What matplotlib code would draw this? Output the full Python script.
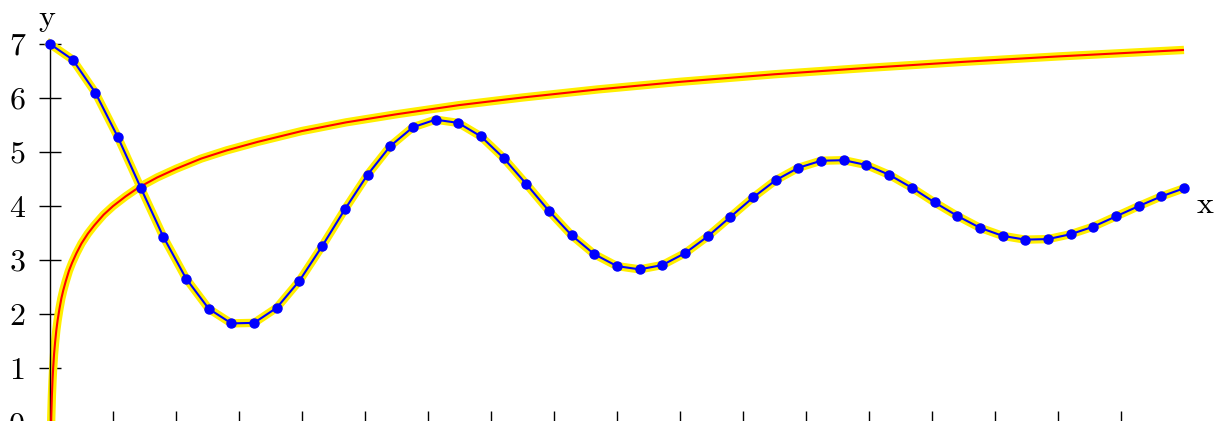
import matplotlib

matplotlib.use("Agg")

import matplotlib.pyplot as plt

# sampled oscillating series (blue dots)
osc_x = [0.36 * i for i in range(51)]
osc_y = [
    7.00, 6.71, 6.10, 5.27, 4.34, 3.43, 2.66, 2.10, 1.83, 1.84,
    2.12, 2.62, 3.26, 3.94, 4.58, 5.11, 5.46, 5.60, 5.54, 5.29,
    4.89, 4.41, 3.91, 3.46, 3.11, 2.89, 2.83, 2.91, 3.13, 3.44,
    3.80, 4.16, 4.48, 4.71, 4.84, 4.85, 4.76, 4.58, 4.34, 4.07,
    3.82, 3.60, 3.45, 3.38, 3.39, 3.48, 3.62, 3.81, 4.00, 4.18,
    4.33,
]

# rising curve (red)
rise_x = [0.01, 0.015, 0.02, 0.03, 0.04, 0.05, 0.065, 0.08, 0.1, 0.12,
          0.15, 0.18, 0.21, 0.25, 0.3, 0.35, 0.42, 0.5, 0.6, 0.7,
          0.85, 1.0, 1.2, 1.4, 1.7, 2.0, 2.4, 2.8, 3.3, 4.0,
          4.7, 5.5, 6.5, 7.5, 8.7, 10.0, 11.5, 13.0, 14.5, 16.0, 18.0]
rise_y = [-0.61, -0.20, 0.09, 0.49, 0.78, 1.00, 1.27, 1.47, 1.70, 1.88,
          2.10, 2.29, 2.44, 2.61, 2.80, 2.95, 3.13, 3.31, 3.49, 3.64,
          3.84, 4.00, 4.18, 4.34, 4.53, 4.69, 4.88, 5.03, 5.19, 5.39,
          5.55, 5.70, 5.87, 6.01, 6.16, 6.30, 6.44, 6.56, 6.67, 6.77, 6.89]

y_ticks = [0, 1, 2, 3, 4, 5, 6, 7]
x_ticks = list(range(1, 18))

plt.rcParams["font.family"] = ["cmr10", "DejaVu Serif"]
plt.rcParams["axes.formatter.use_mathtext"] = True

W, H = 1218, 421
fig = plt.figure(figsize=(W / 100, H / 100), dpi=100)
fig.patch.set_facecolor("white")

left, right = 50, 1184
top, bottom = 44, 422.3
ax = fig.add_axes([left / W, (H - bottom) / H, (right - left) / W, (bottom - top) / H])
ax.set_xlim(0, 18)
ax.set_ylim(0, 7)

halo = "#ffee00"
ax.plot(rise_x, rise_y, color=halo, lw=6.0, solid_capstyle="butt", clip_on=False, zorder=2)
ax.plot(osc_x, osc_y, color=halo, lw=6.0, solid_joinstyle="round", clip_on=False, zorder=2)
ax.plot(rise_x, rise_y, color="red", lw=1.5, solid_capstyle="butt", clip_on=False, zorder=3)
ax.plot(osc_x, osc_y, color="blue", lw=1.5, marker="o", ms=6.5, clip_on=False, zorder=4)

for side in ("top", "right"):
    ax.spines[side].set_visible(False)
ax.spines["left"].set_linewidth(1.0)
ax.spines["bottom"].set_linewidth(1.0)

ax.set_yticks(y_ticks)
ax.set_yticklabels([str(v) for v in y_ticks])
ax.set_xticks(x_ticks)
ax.set_xticklabels([])
ax.tick_params(axis="both", direction="inout", length=15.8, width=1.0, pad=10, labelsize=23)

ax.text(1.0185, 0.574, "x", transform=ax.transAxes, fontsize=23, ha="center", va="center")
ax.text(-0.0026, 1.069, "y", transform=ax.transAxes, fontsize=23, ha="center", va="center")

fig.savefig("out.png", dpi=100, facecolor="white")
